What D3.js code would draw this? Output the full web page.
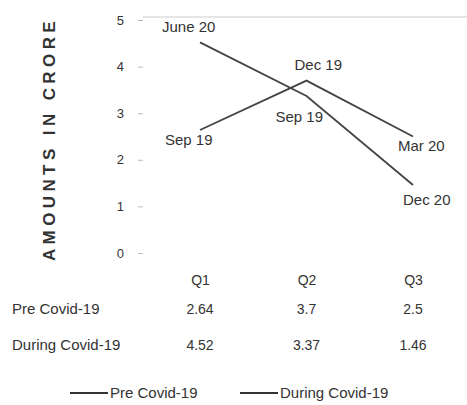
<!DOCTYPE html>
<html><head><meta charset="utf-8">
<script src="https://cdn.jsdelivr.net/npm/d3@7"></script>
<style>body{margin:0;background:#fff}svg{display:block}text{font-family:"Liberation Sans",Arial,sans-serif;fill:#333}</style>
</head><body>
<svg id="c" width="467" height="405"></svg>
<script>
const categories = ["Q1","Q2","Q3"];
const seriesNames = ["Pre Covid-19","During Covid-19"];
const preCovid = [2.64, 3.7, 2.5];
const duringCovid = [4.52, 3.37, 1.46];
const preLabels = ["Sep 19","Dec 19","Mar 20"];
const duringLabels = ["June 20","Sep 19","Dec 20"];
const tableText = [["2.64","3.7","2.5"],["4.52","3.37","1.46"]];
const yTicks = [0,1,2,3,4,5];

const svg = d3.select("#c");
const x = d3.scalePoint().domain(categories).range([200, 413]);
const y = d3.scaleLinear().domain([0,5]).range([253, 20]);

// top gridline
svg.append("line").attr("x1",143).attr("x2",467).attr("y1",y(5)-3).attr("y2",y(5)-3)
  .attr("stroke","#ccc").attr("stroke-width",1);

// y axis
const ya = svg.append("g").attr("transform","translate(143,0)")
  .call(d3.axisLeft(y).tickValues(yTicks).tickSize(5).tickPadding(14).tickFormat(d3.format("d")));
ya.select(".domain").remove();
ya.selectAll("line").attr("stroke","#bbb");
ya.selectAll("text").style("font-size","13px").attr("fill","#333");

// y title
svg.append("text").attr("transform","translate(55,139) rotate(-90)").attr("text-anchor","middle")
  .style("font-size","17px").style("font-weight","bold").style("letter-spacing","4.4px").text("AMOUNTS IN CRORE");

// x category labels
svg.append("g").attr("transform","translate(0,253)")
  .call(d3.axisBottom(x).tickSize(0).tickPadding(22))
  .call(g=>g.select(".domain").remove())
  .selectAll("text").style("font-size","14px").attr("fill","#333");

const line = d3.line().x((d,i)=>x(categories[i])).y(d=>y(d));
svg.append("path").datum(preCovid).attr("d",line).attr("fill","none").attr("stroke","#444").attr("stroke-width",1.8);
svg.append("path").datum(duringCovid).attr("d",line).attr("fill","none").attr("stroke","#444").attr("stroke-width",1.8);

// point labels
const preOff = [[-35,15,"#333"],[-12,-11,"#333"],[-15,14,"#444"]];
preCovid.forEach((v,i)=>{
  svg.append("text").attr("x",x(categories[i])+preOff[i][0]).attr("y",y(v)+preOff[i][1])
   .style("font-size","15px").attr("fill",preOff[i][2]).text(preLabels[i]);
});
const durOff = [[-38,-10,"#333"],[-31,26,"#aaa"],[-10,20,"#999"]];
duringCovid.forEach((v,i)=>{
  svg.append("text").attr("x",x(categories[i])+durOff[i][0]).attr("y",y(v)+durOff[i][1])
   .style("font-size","15px").attr("fill",durOff[i][2]).text(duringLabels[i]);
});

// data table
const rowsY = [314, 350];
seriesNames.forEach((s,r)=>{
  svg.append("text").attr("x",12).attr("y",rowsY[r]).style("font-size","15px").text(s);
  tableText[r].forEach((t,i)=>{
    svg.append("text").attr("x",x(categories[i])).attr("y",rowsY[r]).attr("text-anchor","middle")
      .style("font-size","14px").text(t);
  });
});

// legend
const lg = [[70,"Pre Covid-19"],[240,"During Covid-19"]];
lg.forEach(([lx,t])=>{
  svg.append("line").attr("x1",lx).attr("x2",lx+38).attr("y1",393).attr("y2",393).attr("stroke","#333").attr("stroke-width",2);
  svg.append("text").attr("x",lx+40).attr("y",398).style("font-size","15px").text(t);
});
</script>
</body></html>
